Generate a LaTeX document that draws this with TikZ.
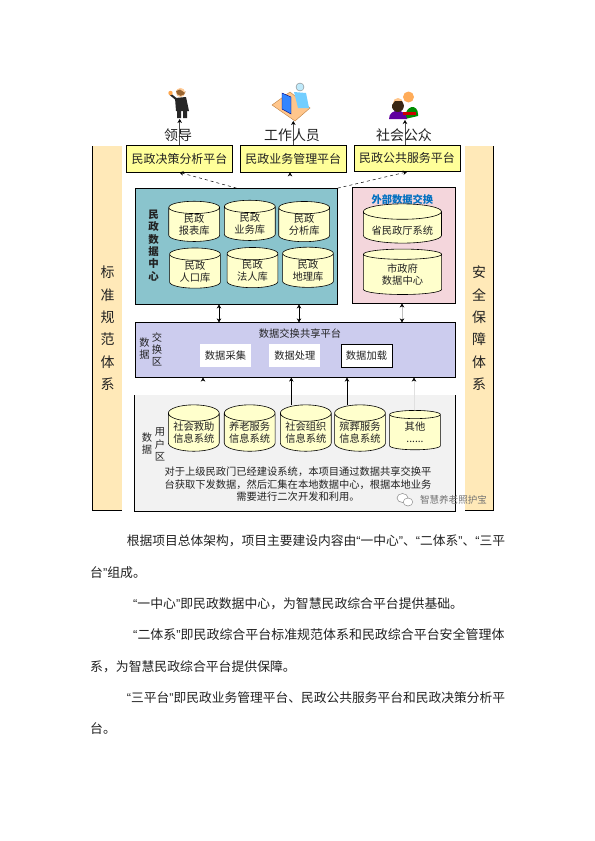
\documentclass[tikz,border=0pt]{standalone}
\usepackage{fontspec}
\setmainfont{Noto Sans CJK SC}
\newfontfamily\quotefont{Liberation Sans}
\usepackage{xcolor}
\usetikzlibrary{arrows.meta,positioning,calc,shapes.geometric}
\definecolor{cBand}{HTML}{FFE9B8}
\definecolor{cPlat}{HTML}{FFFF99}
\definecolor{cTeal}{HTML}{8AC4CD}
\definecolor{cPink}{HTML}{F4D6DC}
\definecolor{cSwap}{HTML}{CCCCEE}
\definecolor{cUser}{HTML}{F2F2F2}
\definecolor{cCyl}{HTML}{FFFFCC}
\definecolor{cInk}{HTML}{222222}
\definecolor{cBlue}{HTML}{0070C0}
\newcommand{\zq}[1]{{\quotefont“}#1{\quotefont”}}
\newcommand{\fsz}[2]{\fontsize{#1}{#2}\selectfont}
\tikzset{
  band/.style={fill=cBand,minimum width=#1,minimum height=365.5,inner sep=0pt,align=center,text=cInk,font=\fsz{14}{22.4}},
  plat/.style={draw=black,fill=cPlat,line width=0.8pt,minimum width=106.5,minimum height=26.5,inner sep=0pt,text=cInk,font=\fsz{12}{14}},
  zone/.style={draw=black,fill=#1,line width=0.8pt,inner sep=0pt},
  % the taller first line pushes the text down into the body of the cylinder
  cyl/.style={cylinder,shape border rotate=90,shape aspect=0.4,draw=black,fill=cCyl,line width=0.6pt,inner sep=0pt,
    minimum width=51,minimum height=39.5,align=center,text=cInk,font=\fsz{10.3}{12},
    execute at begin node={\rule{0pt}{15pt}}},
  lbl/.style={inner sep=0pt,align=center,text=cInk,font=\fsz{10.3}{12.2}},
  who/.style={inner sep=0pt,text=cInk,font=\fsz{14}{16}},
  wbox/.style={fill=white,minimum width=51.5,minimum height=23.3,inner sep=0pt,text=cInk,font=\fsz{10.3}{12}},
  arr/.style={-{Stealth[length=4pt,width=4.5pt,color=black]},line width=0.5pt,color=#1},
  arr/.default=black,
  darr/.style={{Stealth[length=4pt,width=4.5pt,color=black]}-{Stealth[length=4pt,width=4.5pt,color=black]},line width=0.5pt,color=#1},
  darr/.default=black,
  bodyline/.style={anchor=west,inner sep=0pt,text=cInk,font=\fsz{12.9}{15}},
}
\begin{document}
\begin{tikzpicture}[x=1bp,y=-1bp]
  \useasboundingbox[fill=white] (0,0) rectangle (595,841);
  % side bands
  \node[band=29.5] (bandl) at (107.5,328.3) {标\\准\\规\\范\\体\\系};
  \node[band=28.5] (bandr) at (479.2,328.3) {安\\全\\保\\障\\体\\系};
  \draw[line width=0.8pt] (bandl.north west) -- (bandl.south west) -- (bandl.south east);
  \draw[line width=0.8pt] (bandr.north east) -- (bandr.south east) -- (bandr.south west);
  % platforms
  \node[plat] (decide) at (179.5,158.8) {民政决策分析平台};
  \node[plat] (manage) at (293.3,158.8) {民政业务管理平台};
  \node[plat] (public) at (407,158.3) {民政公共服务平台};
  % data centre
  \node[zone=cTeal,minimum width=202.4,minimum height=116] (teal) at (236.5,246.3) {};
  \node[zone=cPink,minimum width=103.4,minimum height=116] (pink) at (404,245.3) {};
  \node[lbl,font=\fsz{10.5}{12.3}\bfseries] (tealname) at (153.5,245.5) {民\\政\\数\\据\\中\\心};
  \node[cyl] (db1) at (194.2,224.6) {民政\\报表库};
  \node[cyl] (db2) at (249.8,223.6) {民政\\业务库};
  \node[cyl] (db3) at (304.2,224.8) {民政\\分析库};
  \node[cyl] (db4) at (195,271.3) {民政\\人口库};
  \node[cyl] (db5) at (252.5,270.8) {民政\\法人库};
  \node[cyl] (db6) at (308,270.5) {民政\\地理库};
  \node[lbl,text=cBlue,font=\fsz{10.3}{12}\bfseries] (pinkname) at (402.3,199.5) {外部数据交换};
  \node[cyl,minimum width=78.5,minimum height=33.6,shape aspect=0.25] (ext1) at (402.4,227.5) {省民政厅系统};
  \node[cyl,minimum width=78.5,minimum height=45.6,shape aspect=0.25] (ext2) at (402.5,274.5) {市政府\\数据中心};
  % exchange area
  \node[zone=cSwap,minimum width=321.4,minimum height=54.6] (swap) at (295,350) {};
  \node[lbl] (swapname) at (300,333.3) {数据交换共享平台};
  \node[lbl] (swapa) at (144.5,348.5) {数\\据};
  \node[lbl] (swapb) at (157,349.5) {交\\换\\区};
  \node[wbox] (collect) at (225.5,355.7) {数据采集};
  \node[wbox] (handle) at (294.8,355.7) {数据处理};
  \node[wbox,draw=black,line width=0.7pt] (load) at (366.5,355.7) {数据加载};
  % user area
  \node[fill=cUser,minimum width=321.4,minimum height=116,inner sep=0pt] (user) at (295,453) {};
  \draw[line width=0.8pt] (user.north west) -- (user.south west) -- (user.south east) -- (user.north east);
  \node[lbl] (usera) at (147,443.5) {数\\据};
  \node[lbl] (userb) at (160,444.3) {用\\户\\区};
  \node[cyl] (sys1) at (193.8,432.3) {社会救助\\信息系统};
  \node[cyl] (sys2) at (249.7,432.3) {养老服务\\信息系统};
  \node[cyl] (sys3) at (305.8,432.3) {社会组织\\信息系统};
  \node[cyl] (sys4) at (360,432.3) {殡葬服务\\信息系统};
  \node[cyl] (sys5) at (415,432.3) {其他\\......};
  \node[lbl,font=\fsz{10.3}{12.5}] (usernote) at (298,484.3) {对于上级民政门已经建设系统，本项目通过数据共享交换平\\台获取下发数据，然后汇集在本地数据中心，根据本地业务\\需要进行二次开发和利用。};
  % connectors
  \coordinate (tipa) at (179.7,119);
  \coordinate (tipb) at (293.3,121);
  \coordinate (tipc) at (405,120);
  \draw[arr=black!70] (decide.north -| tipa) -- (tipa);
  \draw[arr=black!70] (manage.north -| tipb) -- (tipb);
  \draw[arr=black!70] (public.north -| tipc) -- (tipc);
  \draw[arr,dashed] (teal.north) -- (decide.south);
  \draw[arr,dashed] (teal.north east) -- (public.south);
  \draw[arr=white] (290,0 |- teal.north) -- (290,0 |- manage.south);
  \foreach \xx in {219,299} \draw[darr] (\xx,0 |- teal.south) -- (\xx,0 |- swap.north);
  \draw[darr=black!25] (402,0 |- pink.south) -- (402,0 |- swap.north);
  \draw[arr=white] (203,0 |- user.north) -- (203,0 |- swap.south);
  \draw[arr] (291.3,0 |- sys3.north) -- (291.3,0 |- swap.south);
  \draw[arr] (347,0 |- sys4.north) -- (347,0 |- swap.south);
  \draw[arr=black!12] (414,0 |- sys5.north) -- (414,0 |- swap.south);
  % people
  \node[who] (lead) at (178,135) {领导};
  \node[who] (staff) at (292,135) {工作人员};
  \node[who] (folk) at (404,135) {社会公众};
  % leader icon
  \fill[black!85] (175,98) -- (186,97) -- (189,111) -- (176,111) -- cycle;
  \draw[black!85,line width=2pt] (176,99) -- (170,94);
  \fill[orange!70!white] (170.5,93) circle (2.2);
  \fill[black!85] (177,110) rectangle (181,118) (183,110) rectangle (187,118);
  \fill[orange!40!white] (180.5,92.5) circle (4.6);
  \fill[brown!80!black] (176,91) arc (180:0:4.8) -- (185,93) -- (180,89.5) -- cycle;
  % staff icon
  \fill[orange!45!white,draw=brown] (272,105) -- (290,92) -- (310,108) -- (295,121) -- cycle;
  \fill[blue!35!cyan!55!white] (294,92) -- (306,93) -- (309,108) -- (298,108) -- cycle;
  \fill[cyan!25!white,draw=gray] (300,87) circle (4);
  \fill[blue!60!cyan!80!white,draw=blue!50!black] (282,93) -- (291,97) -- (291,114) -- (282,109) -- cycle;
  % public icon
  \fill[green!55!black] (405,119) .. controls (405,104) and (418,104) .. (418,114) -- (418,116) -- cycle;
  \fill[orange!65!white] (408.5,97) circle (5.5);
  \fill[violet!75!blue] (389,119) .. controls (389,108) and (406,108) .. (407,119) -- cycle;
  \fill[orange!45!white] (398,103) circle (5);
  \fill[black!70!brown] (392,105) arc (190:-10:6) -- (402,101) -- (395,101) -- cycle;
  \fill[red!80!black] (403,111.5) rectangle (416,114.5);
  % body text
  \node[bodyline,font=\fsz{12.8}{15}] (line1) at (126.7,540.7) {根据项目总体架构，项目主要建设内容由\zq{一中心}、\zq{二体系}、{\quotefont“}三平};
  \node[bodyline] (line2) at (90,572.7) {台{\quotefont”}组成。};
  \node[bodyline] (line3) at (133,603.3) {\zq{一中心}即民政数据中心，为智慧民政综合平台提供基础。};
  \node[bodyline,font=\fsz{13}{15}] (line4) at (133,634.3) {\zq{二体系}即民政综合平台标准规范体系和民政综合平台安全管理体};
  \node[bodyline] (line5) at (90,666.7) {系，为智慧民政综合平台提供保障。};
  \node[bodyline,font=\fsz{12.8}{15}] (line6) at (126.7,697.7) {\zq{三平台}即民政业务管理平台、民政公共服务平台和民政决策分析平};
  \node[bodyline] (line7) at (90,729) {台。};
  % watermark
  \draw[black!45,fill=white,line width=0.5pt] (402.5,498) ellipse (5.5 and 4.5);
  \draw[black!45,fill=white,line width=0.5pt] (408,502) ellipse (4.8 and 4);
  \node[lbl,text=black!55,font=\fsz{9.6}{11}] (mark) at (453.5,500) {智慧养老照护宝};
\end{tikzpicture}
\end{document}
